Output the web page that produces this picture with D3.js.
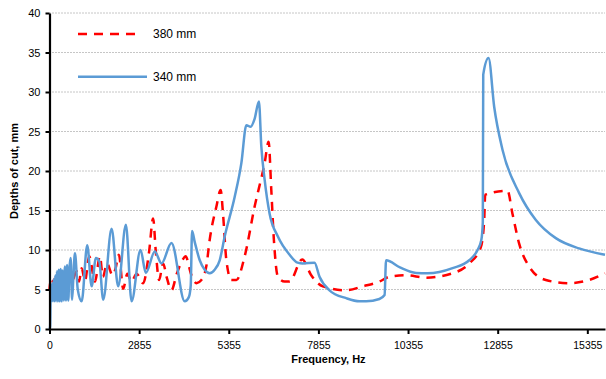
<!DOCTYPE html>
<html>
<head>
<meta charset="utf-8">
<script src="https://cdn.jsdelivr.net/npm/d3@7"></script>
<style>
  body { margin: 0; background: #fff; }
  text { font-family: "Liberation Sans", Arial, sans-serif; }
</style>
</head>
<body>
<div id="chart"></div>
<script>
// tick labels
const freqTicks = [0, 2855, 5355, 7855, 10355, 12855, 15355];
const depthTicks = [0, 5, 10, 15, 20, 25, 30, 35, 40];
const freqMax = 15848;

// 380 mm series
const freq380 = [0, 25, 60, 100, 140, 185, 230, 280, 330, 385, 440, 500, 560, 620, 700, 865, 940, 1024, 1130,
  1266, 1447, 1606, 1700, 1829, 2010, 2100, 2210, 2347, 2480, 2613, 2772, 2966, 3133, 3245, 3320, 3412, 3523,
  3626, 3757, 3905, 4072, 4150, 4314, 4453, 4592, 4731, 4823, 5010, 5129, 5194, 5288, 5427, 5567, 5798, 6076,
  6355, 6466, 6541, 6613, 6725, 6911, 7050, 7404, 7655, 7978, 8629, 9091, 9556, 9834, 10299, 10856, 11597,
  12062, 12387, 12479, 12507, 13128, 13267, 13454, 13733, 14197, 14846, 15403, 15848];
const depth380 = [5.0, 6.0, 5.7, 6.3, 5.8, 6.6, 5.9, 6.9, 5.9, 7.1, 5.9, 7.2, 6.0, 7.2, 5.9, 7.3, 6.0, 7.7, 6.1,
  9.2, 6.0, 9.2, 6.6, 8.3, 6.8, 7.6, 9.4, 5.1, 7.0, 6.0, 7.0, 5.8, 9.8, 14.0, 9.8, 6.2, 8.3,
  6.5, 4.9, 7.0, 8.8, 9.2, 6.8, 5.8, 6.2, 8.0, 11.3, 15.5, 17.6, 14.6, 8.7, 6.2, 6.2, 9.2, 15.5,
  21.0, 23.7, 17.6, 11.3, 6.6, 6.0, 6.0, 8.8, 6.8, 5.4, 4.9, 5.4, 6.0, 6.6, 6.8, 6.5, 7.05,
  8.3, 10.4, 13.8, 17.0, 17.5, 14.6, 10.8, 7.9, 6.2, 5.8, 6.2, 7.05];

// 340 mm series
const freq340 = [0, 20, 40, 60, 85, 110, 135, 160, 185, 210, 238, 265, 295, 325, 355, 388, 420, 455, 490, 525,
  560, 598, 635, 674, 720, 760, 811, 900, 1024, 1202, 1342, 1479, 1584, 1711, 1978, 2188, 2433, 2614, 2894,
  3042, 3292, 3479, 3757, 4127, 4238, 4294, 4331, 4406, 4545, 4684, 4823, 4962, 5102, 5241, 5519, 5706, 5845,
  5965, 6076, 6196, 6263, 6355, 6494, 6725, 7051, 7273, 7421, 7747, 7886, 8164, 8629, 9000, 9186, 9556, 9700,
  9742, 10129, 10578, 10901, 11597, 12062, 12293, 12400, 12440, 12452, 12599, 12758, 12989, 13454, 13919,
  14476, 15124, 15848];
const depth340 = [0, 0.3, 5.6, 3.5, 5.8, 3.5, 6.3, 3.5, 6.8, 3.5, 7.3, 3.5, 7.5, 3.5, 7.6, 3.5, 7.4, 3.6, 7.9, 3.6,
  8.1, 3.6, 7.6, 9.0, 3.7, 6.5, 9.6, 5.0, 3.5, 10.6, 5.4, 9.0, 8.6, 3.7, 12.7, 5.4, 13.2, 3.5, 10.0,
  7.1, 9.8, 8.3, 10.9, 3.5, 4.0, 5.5, 12.4, 11.0, 8.7, 7.5, 7.05, 7.5, 8.7, 11.7, 16.7, 21.0, 25.8,
  25.6, 26.6, 28.8, 23.1, 18.9, 14.6, 11.7, 9.4, 8.4, 8.3, 8.4, 6.6, 4.9, 3.9, 3.5, 3.5, 3.8, 4.3,
  8.7, 7.8, 7.1, 7.05, 7.7, 8.7, 10.0, 11.3, 13.5, 32.2, 34.3, 28.1, 22.7, 17.2, 13.8,
  11.5, 10.2, 9.4];

const series = [
  { name: '380 mm', freq: freq380, depth: depth380, color: '#ff0000', dash: '9,7' },
  { name: '340 mm', freq: freq340, depth: depth340, color: '#5b9bd5', dash: null }
];

const width = 606, height = 379;
const margin = { top: 13, right: 1, bottom: 50, left: 49.5 };
const w = width - margin.left - margin.right;
const h = height - margin.top - margin.bottom;

const svg = d3.select('#chart').append('svg')
  .attr('width', width)
  .attr('height', height);

const g = svg.append('g')
  .attr('transform', `translate(${margin.left},${margin.top})`);

// category-like axis: first label gap (0 -> 2855) is drawn as wide as the 2500 Hz steps
const step = w / ((freqMax - freqTicks[1]) / 2500 + 1);
const x = d3.scaleLinear()
  .domain([0, freqTicks[1], freqMax])
  .range([0, step, w]);

const y = d3.scaleLinear()
  .domain([0, 40])
  .range([h, 0]);

// grid
g.append('g')
  .selectAll('line')
  .data(depthTicks.slice(1))
  .enter().append('line')
  .attr('x1', 0)
  .attr('x2', w)
  .attr('y1', d => y(d))
  .attr('y2', d => y(d))
  .attr('stroke', '#8c8c8c')
  .attr('stroke-width', 1)
  .attr('stroke-dasharray', '1,2');

// lines
const line = d3.line()
  .x(d => x(d[0]))
  .y(d => y(d[1]))
  .curve(d3.curveMonotoneX);

series.forEach(s => {
  const pts = s.freq.map((f, i) => [f, s.depth[i]]);
  g.append('path')
    .datum(pts)
    .attr('d', line)
    .attr('fill', 'none')
    .attr('stroke', s.color)
    .attr('stroke-width', 2.5)
    .attr('stroke-dasharray', s.dash);
});

// axes
const xAxis = g.append('g')
  .attr('transform', `translate(0,${h})`)
  .call(d3.axisBottom(x).tickValues(freqTicks).tickSize(5).tickSizeOuter(0).tickFormat(d3.format('d')));
xAxis.select('.domain').attr('stroke-width', 2.2).attr('stroke', '#000');
xAxis.selectAll('.tick line').attr('stroke-width', 2);
xAxis.selectAll('text').attr('font-size', '10.5px').attr('fill', '#000').attr('dy', '1.1em');

const yAxis = g.append('g')
  .call(d3.axisLeft(y).tickValues(depthTicks).tickSize(4).tickSizeOuter(0));
yAxis.select('.domain').attr('stroke-width', 2.2).attr('stroke', '#000');
yAxis.selectAll('.tick line').attr('stroke-width', 2);
yAxis.selectAll('text').attr('font-size', '11px').attr('fill', '#000').attr('x', -9);

// axis titles
svg.append('text')
  .attr('x', margin.left + x(7855) + 10)
  .attr('y', 363)
  .attr('text-anchor', 'middle')
  .attr('font-size', '11px')
  .attr('font-weight', 'bold')
  .text('Frequency, Hz');

svg.append('text')
  .attr('transform', 'translate(18,171) rotate(-90)')
  .attr('text-anchor', 'middle')
  .attr('font-size', '11px')
  .attr('font-weight', 'bold')
  .text('Depths of cut, mm');

// legend
const legend = svg.append('g');
series.forEach((s, i) => {
  const ly = 34 + i * 42.7;
  legend.append('line')
    .attr('x1', 78).attr('x2', s.dash ? 142 : 147)
    .attr('y1', ly).attr('y2', ly)
    .attr('stroke', s.color)
    .attr('stroke-width', 2.5)
    .attr('stroke-dasharray', s.dash);
  legend.append('text')
    .attr('x', 153)
    .attr('y', ly + 4)
    .attr('font-size', '12px')
    .text(s.name);
});
</script>
</body>
</html>
